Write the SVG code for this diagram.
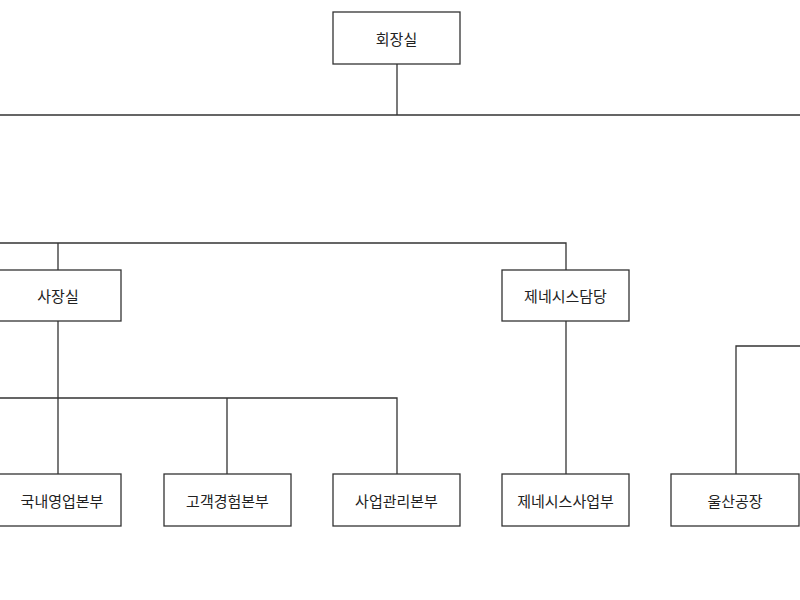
<svg xmlns="http://www.w3.org/2000/svg" width="800" height="600" viewBox="0 0 800 600">
<style>
rect{fill:#fff;stroke:#333;stroke-width:1.3}
text{font-family:"Noto Sans CJK KR","Noto Sans",sans-serif;font-size:15px;fill:#222;text-anchor:middle;dominant-baseline:central}
.c{stroke:#333;stroke-width:1.3;fill:none}
</style>
<rect x="0" y="0" width="800" height="600" style="stroke:none"/>
<g id="connectors">
<path class="c" d="M397 64V115M0 115H800"/>
<path class="c" d="M0 243H566V270M58 243V270"/>
<path class="c" d="M58 321V474M0 398H397V474M227 398V474"/>
<path class="c" d="M566 321V474"/>
<path class="c" d="M736 474V346H800"/>
</g>
<g id="n1"><rect x="333" y="12" width="127" height="52"/><text x="396.5" y="38">회장실</text></g>
<g id="n2"><rect x="-10" y="270" width="131" height="51"/><text x="58" y="295.5">사장실</text></g>
<g id="n3"><rect x="502" y="270" width="127" height="51"/><text x="565.5" y="295.5">제네시스담당</text></g>
<g id="n4"><rect x="-6" y="474" width="127" height="52"/><text x="62" y="500">국내영업본부</text></g>
<g id="n5"><rect x="164" y="474" width="127" height="52"/><text x="227.5" y="500">고객경험본부</text></g>
<g id="n6"><rect x="333" y="474" width="127" height="52"/><text x="396.5" y="500">사업관리본부</text></g>
<g id="n7"><rect x="502" y="474" width="127" height="52"/><text x="565.5" y="500">제네시스사업부</text></g>
<g id="n8"><rect x="671" y="474" width="128" height="52"/><text x="735" y="500">울산공장</text></g>
</svg>
